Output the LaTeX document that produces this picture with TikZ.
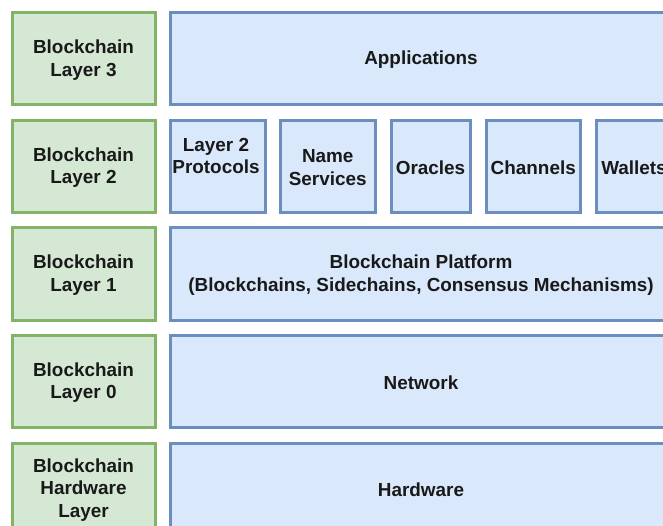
\documentclass[tikz,border=0pt]{standalone}
\usepackage{fontspec}
\setmainfont{Liberation Sans}
\definecolor{gfill}{HTML}{D5E8D4}
\definecolor{gdraw}{HTML}{82B366}
\definecolor{bfill}{HTML}{DAE8FC}
\definecolor{bdraw}{HTML}{6C8EBF}
\begin{document}
\begin{tikzpicture}[x=1pt,y=1pt,
  every node/.style={font=\fontsize{18.9}{22.5}\selectfont\bfseries, align=center, inner sep=0pt, text=black!90},
  layerbox/.style={draw=gdraw, fill=gfill, line width=3pt},
  stackbox/.style={draw=bdraw, fill=bfill, line width=3pt}]
\useasboundingbox (0,0) rectangle (663,-526);
\clip (0,0) rectangle (663,-526);
% green layer boxes
\draw[layerbox] (12,-13) rectangle (155,-105);
\draw[layerbox] (12,-120.5) rectangle (155,-212.5);
\draw[layerbox] (12,-228) rectangle (155,-320);
\draw[layerbox] (12,-335.5) rectangle (155,-427.5);
\draw[layerbox] (12,-443) rectangle (155,-535);
\node (g3) at (83.5,-60) {Blockchain\\Layer 3};
\node (g2) at (83.5,-167.5) {Blockchain\\Layer 2};
\node (g1) at (83.5,-275) {Blockchain\\Layer 1};
\node (g0) at (83.5,-382.5) {Blockchain\\Layer 0};
\node (gh) at (83.5,-490) {Blockchain\\Hardware\\Layer};
% blue boxes
\draw[stackbox] (170,-13) rectangle (672,-105);
\node (apps) at (421,-60) {Applications};
\draw[stackbox] (170,-120.5) rectangle (265,-212.5);
\draw[stackbox] (280.5,-120.5) rectangle (375,-212.5);
\draw[stackbox] (391,-120.5) rectangle (470,-212.5);
\draw[stackbox] (486,-120.5) rectangle (580.5,-212.5);
\draw[stackbox] (596,-120.5) rectangle (672,-212.5);
\node (l2p) at (216,-156) {Layer 2\\Protocols};
\node (ns) at (327.75,-167.5) {Name\\Services};
\node (or) at (430.5,-167.5) {Oracles};
\node (ch) at (533.25,-167.5) {Channels};
\node (wa) at (634,-167.5) {Wallets};
\draw[stackbox] (170,-228) rectangle (672,-320);
\node (bp) at (421,-275) {Blockchain Platform\\(Blockchains, Sidechains, Consensus Mechanisms)};
\draw[stackbox] (170,-335.5) rectangle (672,-427.5);
\node (net) at (421,-382.5) {Network};
\draw[stackbox] (170,-443) rectangle (672,-535);
\node (hw) at (421,-490) {Hardware};
\end{tikzpicture}
\end{document}
